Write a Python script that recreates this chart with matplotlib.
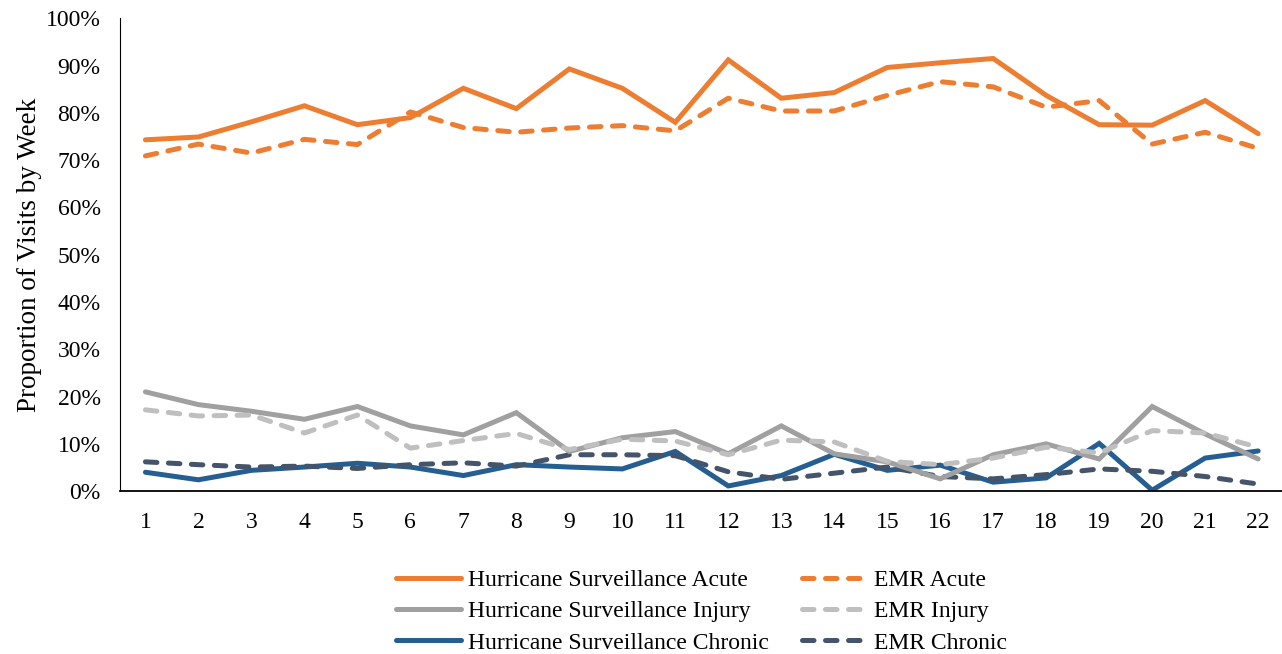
import matplotlib
matplotlib.use("Agg")
import matplotlib.pyplot as plt
from matplotlib.ticker import PercentFormatter

plt.rcParams['font.family'] = ['Liberation Serif', 'DejaVu Serif']

weeks = list(range(1, 23))

hs_acute = [74.3, 74.9, 78.1, 81.5, 77.5, 79.0, 85.2, 80.9, 89.3, 85.2, 78.0,
            91.2, 83.1, 84.3, 89.6, 90.6, 91.5, 83.7, 77.5, 77.4, 82.6, 75.6]
emr_acute = [70.9, 73.4, 71.5, 74.4, 73.3, 80.2, 76.9, 75.9, 76.8, 77.3, 76.2,
             83.1, 80.4, 80.4, 83.7, 86.6, 85.5, 81.2, 82.6, 73.4, 75.9, 72.5]
hs_injury = [21.0, 18.3, 16.9, 15.2, 17.9, 13.8, 11.9, 16.6, 8.4, 11.3, 12.6,
             7.9, 13.8, 7.9, 6.2, 2.6, 7.7, 10.0, 6.8, 17.9, 12.1, 6.8]
emr_injury = [17.2, 15.9, 16.1, 12.3, 16.1, 9.1, 10.7, 12.2, 8.8, 11.0, 10.6,
              7.7, 10.8, 10.4, 6.3, 5.6, 7.0, 9.3, 8.1, 12.8, 12.3, 9.3]
hs_chronic = [4.0, 2.4, 4.4, 5.1, 5.9, 5.1, 3.3, 5.6, 5.1, 4.7, 8.4,
              1.1, 3.3, 7.8, 4.4, 5.5, 1.9, 2.8, 10.1, 0.2, 7.0, 8.5]
emr_chronic = [6.2, 5.6, 5.1, 5.3, 4.8, 5.6, 6.0, 5.3, 7.7, 7.7, 7.5,
               4.1, 2.5, 3.8, 5.1, 3.1, 2.6, 3.5, 4.7, 4.2, 3.1, 1.5]

# legend fills column by column: hurricane series left, EMR right
series = [
    ("Hurricane Surveillance Acute", hs_acute, "#ED7D31", "-"),
    ("Hurricane Surveillance Injury", hs_injury, "#A0A0A0", "-"),
    ("Hurricane Surveillance Chronic", hs_chronic, "#255E91", "-"),
    ("EMR Acute", emr_acute, "#ED7D31", "--"),
    ("EMR Injury", emr_injury, "#BFBFBF", "--"),
    ("EMR Chronic", emr_chronic, "#44546A", "--"),
]
draw_order = [2, 5, 1, 4, 0, 3]

fig = plt.figure(figsize=(12.82, 6.54), dpi=100)
ax = fig.add_axes([0.0936, 0.249, 0.9064, 0.723])

lines = {}
for i in draw_order:
    name, vals, col, ls = series[i]
    if ls == "--":
        ln, = ax.plot(weeks, vals, color=col, lw=3.6, label=name,
                      dashes=(2.3, 2.3), dash_capstyle='round')
    else:
        ln, = ax.plot(weeks, vals, color=col, lw=3.6, label=name,
                      solid_capstyle='round', solid_joinstyle='miter')
    lines[i] = ln

ax.set_xlim(0.52, 22.45)
ax.set_ylim(0, 100)
ax.set_xticks(weeks)
ax.set_yticks(range(0, 101, 10))
ax.yaxis.set_major_formatter(PercentFormatter(decimals=0))
ax.tick_params(axis='both', length=0, labelsize=17)
ax.tick_params(axis='x', pad=15)
ax.tick_params(axis='y', pad=14)
ax.spines['top'].set_visible(False)
ax.spines['right'].set_visible(False)
ax.spines['left'].set_color('#000000')
ax.spines['bottom'].set_color('#000000')
ax.spines['bottom'].set_linewidth(1.3)
ax.set_ylabel("Proportion of Visits by Week", fontsize=19.5, labelpad=3)

handles = [lines[i] for i in range(6)]
labels = [s[0] for s in series]
fig.legend(handles, labels, loc='lower center', ncol=2, frameon=False,
           bbox_to_anchor=(0.547, -0.032), fontsize=17, handlelength=2.75,
           columnspacing=1.4, labelspacing=0.42, handletextpad=0.3)

fig.savefig("out.png", dpi=100)
